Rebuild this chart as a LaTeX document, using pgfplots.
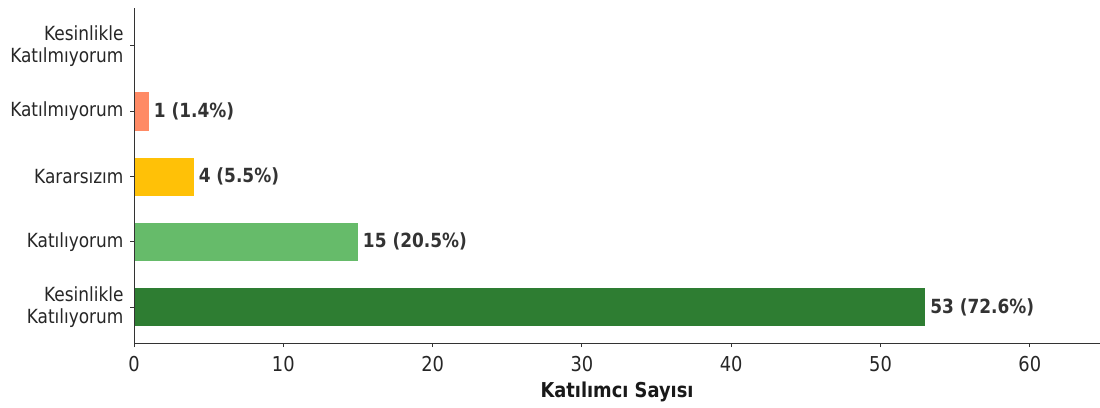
\documentclass[border=0pt]{standalone}
\usepackage{pgfplots}
\pgfplotsset{compat=1.18}
\usepackage{fontspec}
\setmainfont[FakeStretch=0.87]{DejaVu Sans}
\definecolor{cdg}{HTML}{2E7D32}
\definecolor{clg}{HTML}{66BB6A}
\definecolor{camb}{HTML}{FFC107}
\definecolor{csal}{HTML}{FF8A65}
\definecolor{cred}{HTML}{E53935}
\definecolor{spine}{HTML}{333333}
\definecolor{lbl}{HTML}{333333}
\begin{document}
\begin{tikzpicture}
\useasboundingbox (0,0) rectangle (1100pt,407pt);
\begin{axis}[
  at={(134pt,64pt)}, anchor=south west,
  scale only axis, width=966pt, height=335pt,
  xmin=0, xmax=64.7, ymin=-0.55, ymax=4.58,
  enlargelimits=false,
  axis on top,
  axis x line*=bottom, axis y line*=left,
  axis line style={-, spine, line width=0.9pt},
  xtick={0,10,...,60},
  ytick={0,1,2,3,4},
  yticklabels={{Kesinlikle\\Katılıyorum},Katılıyorum,Kararsızım,Katılmıyorum,{Kesinlikle\\Katılmıyorum}},
  tick align=outside, major tick length=4pt,
  tick style={spine, line width=0.9pt},
  x tick label style={font=\fontsize{20.5}{23}\selectfont, text=black!85, yshift=-6pt},
  y tick label style={font=\fontsize{19.5}{22}\selectfont, text=black!85, align=right, xshift=-3pt},
  xlabel={\textbf{Katılımcı Sayısı}},
  xlabel style={font=\fontsize{20.5}{23}\selectfont, text=black!90, yshift=-3pt},
  /pgf/number format/assume math mode=true,
  xbar, bar width=0.6, bar shift=0pt,
  nodes near coords style={anchor=west, xshift=1.5pt, font=\fontsize{19.5}{22}\selectfont\bfseries, text=lbl},
]
\addplot[fill=cdg, draw=white, line width=0.4pt, nodes near coords={53 (72.6\%)}] coordinates {(53,0)};
\addplot[fill=clg, draw=white, line width=0.4pt, nodes near coords={15 (20.5\%)}] coordinates {(15,1)};
\addplot[fill=camb, draw=white, line width=0.4pt, nodes near coords={4 (5.5\%)}] coordinates {(4,2)};
\addplot[fill=csal, draw=white, line width=0.4pt, nodes near coords={1 (1.4\%)}] coordinates {(1,3)};
\addplot[fill=cred, draw=none] coordinates {(0,4)};
\end{axis}
\end{tikzpicture}
\end{document}
